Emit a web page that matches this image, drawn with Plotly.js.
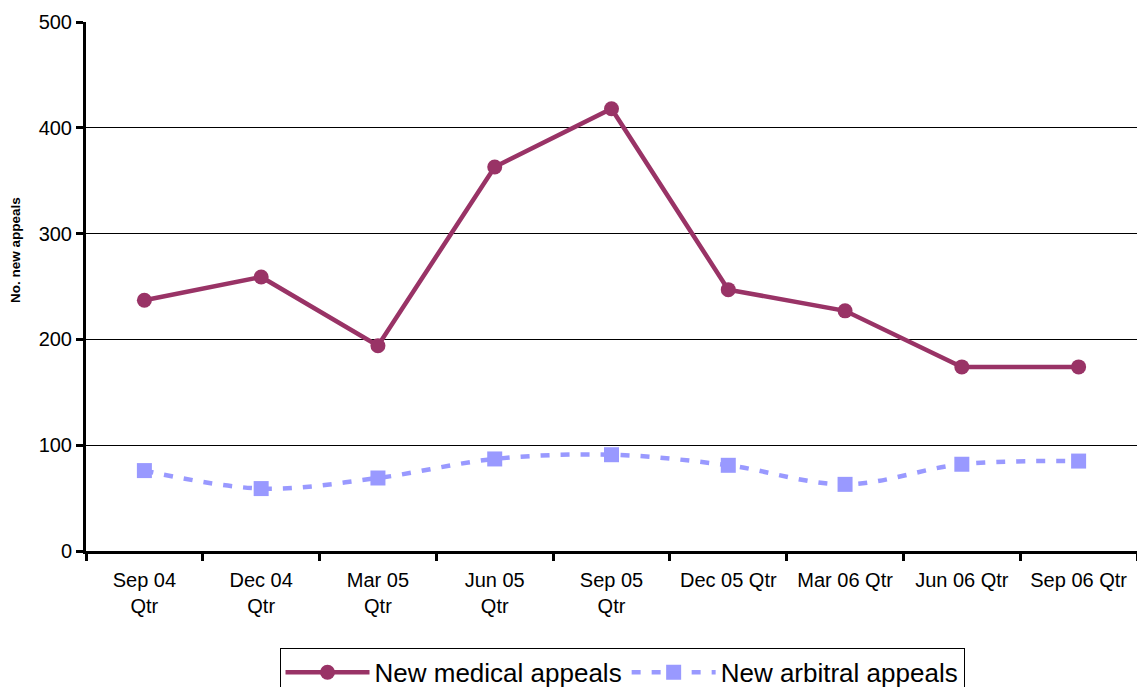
<!DOCTYPE html>
<html>
<head>
<meta charset="utf-8">
<script src="https://cdn.plot.ly/plotly-3.0.1.min.js"></script>
<style>html,body{margin:0;padding:0;background:#fff;}#chart{width:1137px;height:687px;}</style>
</head>
<body>
<div id="chart"></div>
<script>
var categories = ["Sep 04<br>Qtr", "Dec 04<br>Qtr", "Mar 05<br>Qtr", "Jun 05<br>Qtr", "Sep 05<br>Qtr", "Dec 05 Qtr", "Mar 06 Qtr", "Jun 06 Qtr", "Sep 06 Qtr"];
var medicalAppeals = [237, 259, 194, 363, 418, 247, 227, 174, 174];
var arbitralAppeals = [76, 59, 69, 87, 91, 81, 63, 82, 85];
var yAxisTitle = "No. new appeals";

var font = "Liberation Sans, Arial, sans-serif";
var traces = [
  {
    x: categories, y: medicalAppeals, name: "New medical appeals",
    type: "scatter", mode: "lines+markers",
    line: {color: "#993366", width: 4.5},
    marker: {color: "#993366", size: 15, symbol: "circle"}
  },
  {
    x: categories, y: arbitralAppeals, name: "New arbitral appeals",
    type: "scatter", mode: "lines+markers",
    line: {color: "#9999FF", width: 4.5, dash: "9px,11px", shape: "spline"},
    marker: {color: "#9999FF", size: 15, symbol: "square"}
  }
];
var layout = {
  width: 1137, height: 687,
  margin: {l: 86, r: 0, t: 22, b: 136, autoexpand: false},
  paper_bgcolor: "#fff", plot_bgcolor: "#fff",
  font: {family: font, color: "#000", size: 20},
  showlegend: true,
  xaxis: {
    type: "category", automargin: false,
    showline: true, linecolor: "#000", linewidth: 3,
    ticks: "outside", tickson: "boundaries", ticklen: 7, tickwidth: 3, tickcolor: "#000",
    showgrid: false, zeroline: false, ticklabelstandoff: 9,
    tickfont: {family: font, size: 20, color: "#000"},
    range: [-0.5, 8.5]
  },
  yaxis: {
    range: [0, 500], dtick: 100, automargin: false,
    showline: true, linecolor: "#000", linewidth: 3,
    ticks: "outside", ticklen: 7, tickwidth: 3, tickcolor: "#000",
    showgrid: true, gridcolor: "#000", gridwidth: 1, zeroline: false,
    tickfont: {family: font, size: 20, color: "#000"}
  },
  annotations: [{
    text: "<b>" + yAxisTitle + "</b>", textangle: -90, showarrow: false,
    xref: "paper", yref: "paper", x: -0.0666, y: 0.569, xanchor: "center", yanchor: "middle",
    font: {family: font, size: 13.5, color: "#000"}
  }],
  legend: {
    orientation: "h", x: 0.51, xanchor: "center", y: -0.183, yanchor: "top",
    bordercolor: "#000", borderwidth: 1, bgcolor: "#fff",
    font: {family: font, size: 26, color: "#000"},
    itemwidth: 84, tracegroupgap: 0
  }
};
Plotly.newPlot("chart", traces, layout, {displayModeBar: false, staticPlot: true});
</script>
</body>
</html>
